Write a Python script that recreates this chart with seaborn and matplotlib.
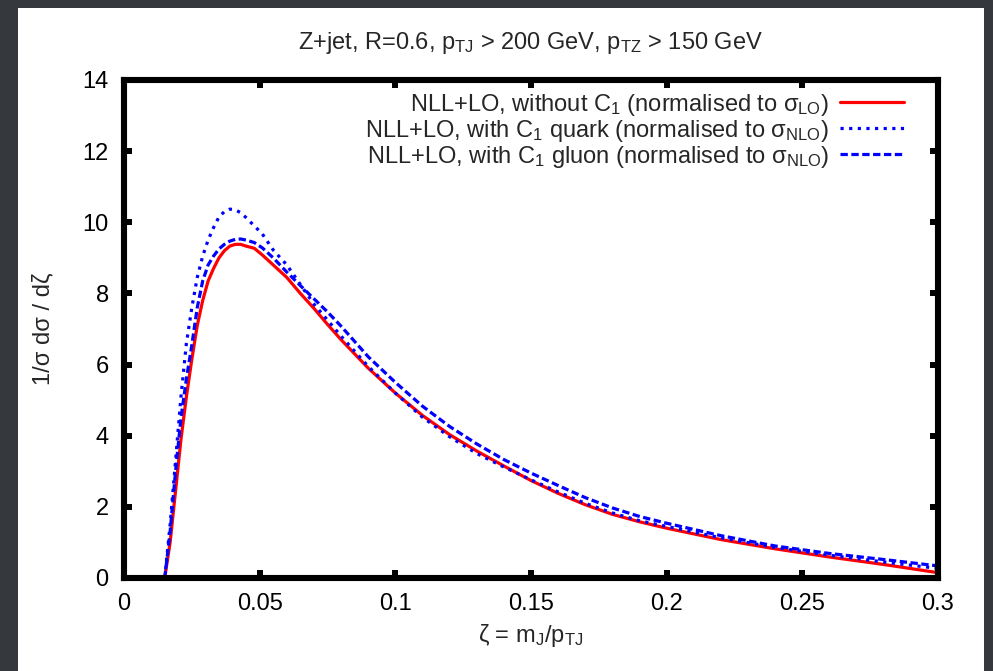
import numpy as np
import pandas as pd
import matplotlib
matplotlib.use("Agg")
import matplotlib.pyplot as plt
from matplotlib.patches import Rectangle
import seaborn as sns

# ---- data ----
zeta = [0.015, 0.017, 0.019, 0.021, 0.023, 0.025, 0.027, 0.029, 0.031, 0.033,
        0.035, 0.037, 0.039, 0.041, 0.043, 0.045, 0.048, 0.051, 0.055, 0.060,
        0.065, 0.070, 0.075, 0.080, 0.090, 0.100, 0.110, 0.120, 0.130, 0.140,
        0.150, 0.160, 0.170, 0.180, 0.190, 0.200, 0.220, 0.240, 0.260, 0.280,
        0.300]
no_c1 = [0.0, 1.0, 2.45, 3.9, 5.1, 6.15, 7.1, 7.8, 8.35, 8.7,
         9.0, 9.2, 9.33, 9.38, 9.38, 9.33, 9.27, 9.08, 8.8, 8.45,
         8.0, 7.58, 7.13, 6.7, 5.9, 5.2, 4.57, 4.03, 3.57, 3.15,
         2.74, 2.38, 2.06, 1.79, 1.58, 1.40, 1.08, 0.82, 0.59, 0.38,
         0.15]
c1_quark = [0.0, 1.5, 3.3, 5.1, 6.6, 7.6, 8.45, 9.05, 9.5, 9.85,
            10.15, 10.3, 10.37, 10.35, 10.27, 10.13, 9.9, 9.67, 9.22, 8.8,
            8.25, 7.7, 7.25, 6.8, 5.95, 5.2, 4.52, 3.97, 3.5, 3.12,
            2.76, 2.42, 2.1, 1.83, 1.61, 1.45, 1.13, 0.86, 0.64, 0.45,
            0.27]
c1_gluon = [0.0, 1.3, 3.0, 4.5, 5.6, 6.55, 7.6, 8.35, 8.8, 9.05,
            9.25, 9.38, 9.47, 9.52, 9.53, 9.5, 9.43, 9.28, 9.0, 8.6,
            8.22, 7.85, 7.48, 7.08, 6.22, 5.5, 4.83, 4.26, 3.77, 3.33,
            2.95, 2.6, 2.26, 1.97, 1.73, 1.54, 1.19, 0.90, 0.69, 0.52,
            0.34]
labels = [r"NLL+LO, without C$_1$ (normalised to $\sigma_{\rm LO}$)",
          r"NLL+LO, with C$_1$ quark (normalised to $\sigma_{\rm NLO}$)",
          r"NLL+LO, with C$_1$ gluon (normalised to $\sigma_{\rm NLO}$)"]
xticks = [0, 0.05, 0.1, 0.15, 0.2, 0.25, 0.3]
xticklabels = ["0", "0.05", "0.1", "0.15", "0.2", "0.25", "0.3"]
yticks = [0, 2, 4, 6, 8, 10, 12, 14]

sns.set_style("ticks")
plt.rcParams["font.family"] = ["Liberation Sans", "DejaVu Sans"]
plt.rcParams["mathtext.fontset"] = "custom"
plt.rcParams["mathtext.rm"] = "Liberation Sans"
plt.rcParams["mathtext.it"] = "Liberation Sans"
plt.rcParams["mathtext.sf"] = "Liberation Sans"
plt.rcParams["mathtext.bf"] = "Liberation Sans:bold"

FS = 17
W, H = 993, 671
fig = plt.figure(figsize=(W / 100, H / 100), dpi=100)
fig.patch.set_facecolor("#35383c")
fig.patches.append(Rectangle((18 / W, 0), (984 - 18) / W, (H - 8) / H,
                             transform=fig.transFigure, facecolor="white",
                             edgecolor="none", zorder=-10))
ax = fig.add_axes([124 / W, (H - 578) / H, (938 - 124) / W, (578 - 80) / H])
ax.set_facecolor("white")
ax.set_zorder(5)

df = pd.DataFrame({"zeta": zeta, "a": no_c1, "b": c1_quark, "c": c1_gluon})
sns.lineplot(data=df, x="zeta", y="a", ax=ax, color="#ff0000", lw=2.3,
             label=labels[0])
sns.lineplot(data=df, x="zeta", y="b", ax=ax, color="#0000ff", lw=2.3,
             linestyle=(0, (1, 1.7)), label=labels[1])
sns.lineplot(data=df, x="zeta", y="c", ax=ax, color="#0000ff", lw=2.3,
             linestyle=(0, (2.3, 1.1)), label=labels[2])

ax.set_xlim(0, 0.3)
ax.set_ylim(0, 14)
ax.set_xticks(xticks)
ax.set_xticklabels(xticklabels)
ax.set_yticks(yticks)
ax.tick_params(direction="in", top=True, right=True, length=6, width=4.3,
               labelsize=FS, pad=11, color="black", labelcolor="black")
for s in ax.spines.values():
    s.set_visible(True)
    s.set_linewidth(4.4)
    s.set_color("black")

ax.set_xlabel(r"ζ = m$_{\rm J}$/p$_{\rm TJ}$", fontsize=FS, labelpad=5)
ax.set_ylabel("1/σ dσ / dζ", fontsize=FS, labelpad=20)
ax.set_title(r"Z+jet, R=0.6, p$_{\rm TJ}$ > 200 GeV, p$_{\rm TZ}$ > 150 GeV",
             fontsize=FS, pad=22)

leg = ax.legend(loc="upper right", frameon=False, markerfirst=False,
                fontsize=FS, handlelength=2.7, handletextpad=0.45,
                labelspacing=0.0, borderaxespad=0.3,
                bbox_to_anchor=(0.978, 1.01))

fig.savefig("out.png", dpi=100, facecolor=fig.get_facecolor())
